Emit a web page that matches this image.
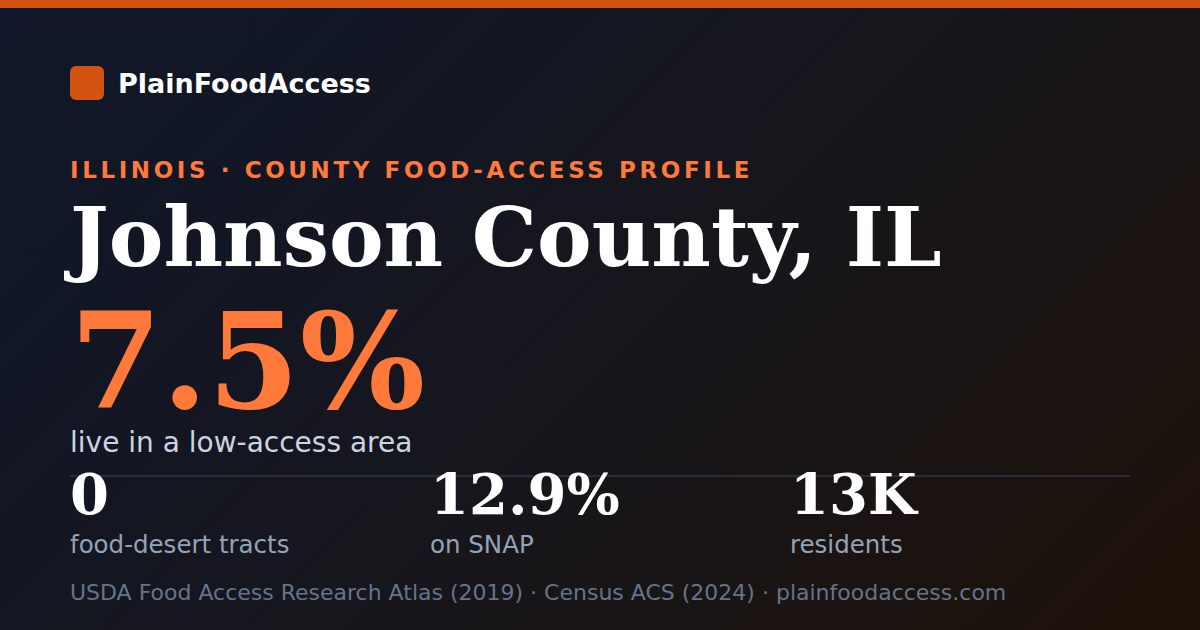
<!DOCTYPE html>
<html>
<head>
<meta charset="utf-8">
<script src="https://cdn.jsdelivr.net/npm/chart.js@4"></script>
<style>
  html, body { margin: 0; padding: 0; }
  body {
    width: 1200px; height: 630px; overflow: hidden; position: relative;
    background: linear-gradient(135deg, #0f172a 0%, #16161d 50%, #1e1108 100%);
    font-family: "DejaVu Sans", sans-serif;
  }
  .bar { position: absolute; left: 0; top: 0; width: 1200px; height: 8px; background: #d2520f; }
  .t { position: absolute; left: 70px; line-height: 1; white-space: nowrap; }
  .serif { font-family: "DejaVu Serif", serif; font-weight: bold; }
  .logo { position: absolute; left: 70px; top: 66px; width: 34px; height: 34px; border-radius: 6px; background: #d2520f; }
  .rule { position: absolute; left: 70px; top: 475px; width: 1060px; height: 2px; background: #262d3a; }
</style>
</head>
<body>
<div class="bar"></div>
<div class="logo"></div>
<div id="brand" class="t" style="left:118px; top:70px; font-size:27px; font-weight:bold; color:#ffffff;"></div>
<div id="eyebrow" class="t" style="top:159px; font-size:23px; font-weight:bold; letter-spacing:3.6px; color:#ff7a3a;"></div>
<div id="title" class="t serif" style="top:196px; font-size:82px; color:#ffffff;"></div>
<div id="big" class="t serif" style="top:309px; font-size:132px; line-height:0.8; color:#ff7a3a;"></div>
<div id="sub" class="t" style="top:430px; font-size:28px; line-height:0.9; color:#cbd5e1;"></div>
<div class="rule"></div>
<div id="stats"></div>
<div id="footer" class="t" style="top:582px; font-size:22px; color:#64748b;"></div>

<script>
// card content
const brandName = 'PlainFoodAccess';
const eyebrowText = 'ILLINOIS · COUNTY FOOD-ACCESS PROFILE';
const countyName = 'Johnson County, IL';
const lowAccessShare = '7.5%';
const lowAccessLabel = 'live in a low-access area';
const statValues = ['0', '12.9%', '13K'];
const statLabels = ['food-desert tracts', 'on SNAP', 'residents'];
const sources = ['USDA Food Access Research Atlas (2019)', 'Census ACS (2024)', 'plainfoodaccess.com'];

document.getElementById('brand').textContent = brandName;
document.getElementById('eyebrow').textContent = eyebrowText;
document.getElementById('title').textContent = countyName;
document.getElementById('big').textContent = lowAccessShare;
document.getElementById('sub').textContent = lowAccessLabel;
document.getElementById('footer').textContent = sources.join(' · ');

let stats = document.getElementById('stats');
statValues.forEach((value, i) => {
    let left = 70 + i * 360;
    let v = document.createElement('div');
    v.className = 't serif';
    v.style.cssText = 'left:' + left + 'px; top:466px; font-size:56px; color:#ffffff;';
    v.textContent = value;
    stats.appendChild(v);

    let l = document.createElement('div');
    l.className = 't';
    l.style.cssText = 'left:' + left + 'px; top:533px; font-size:24.5px; color:#94a3b8;';
    l.textContent = statLabels[i];
    stats.appendChild(l);
});
</script>
</body>
</html>
